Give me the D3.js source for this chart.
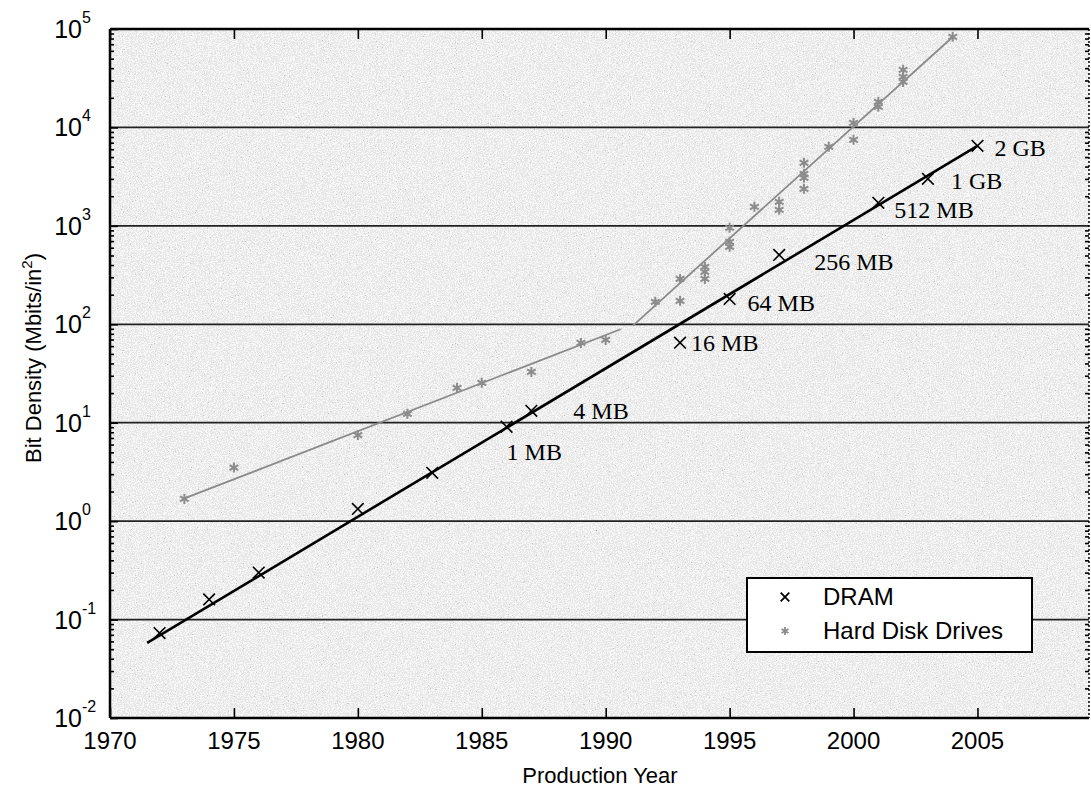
<!DOCTYPE html>
<html>
<head>
<meta charset="utf-8">
<script src="https://cdn.jsdelivr.net/npm/d3@7"></script>
<style>
  body { margin: 0; background: #fff; }
  svg { display: block; }
  .sans { font-family: "Liberation Sans", Arial, sans-serif; }
  .serif { font-family: "Liberation Serif", "Times New Roman", serif; }
</style>
</head>
<body>
<svg id="chart" width="1091" height="787"></svg>
<script>
// DRAM: year, Mbits/in^2
var dramYears = [1972, 1974, 1976, 1980, 1983, 1986, 1987, 1993, 1995, 1997, 2001, 2003, 2005];
var dramValues = [0.073, 0.16, 0.30, 1.33, 3.1, 9.1, 13.2, 65, 181, 507, 1714, 3006, 6500];
// chip capacity labels, attached to the DRAM point of the same year
var capLabels = ["1 MB", "4 MB", "16 MB", "64 MB", "256 MB", "512 MB", "1 GB", "2 GB"];
var capYears = [1986, 1987, 1993, 1995, 1997, 2001, 2003, 2005];
// DRAM trend line end points
var dramFitYears = [1971.5, 2005];
var dramFitValues = [0.058, 6500];

// hard disk drives
var hddYears = [1973, 1975, 1980, 1982, 1984, 1985, 1987, 1989, 1990, 1992, 1993, 1993,
  1994, 1994, 1994, 1995, 1995, 1995, 1996, 1997, 1997, 1998, 1998, 1998, 1998,
  1999, 2000, 2000, 2001, 2001, 2002, 2002, 2002, 2004];
var hddValues = [1.68, 3.5, 7.5, 12.3, 22.6, 25.4, 32.8, 64.7, 69.4, 169, 173, 289,
  383, 341, 289, 955, 688, 612, 1560, 1754, 1455, 4370, 3377, 3076, 2377,
  6350, 11100, 7480, 18200, 16200, 38500, 32700, 29000, 83300];
// HDD trend: two pieces
var hddFit1Years = [1973, 1990.6], hddFit1Values = [1.7, 89];
var hddFit2Years = [1991.1, 2004], hddFit2Values = [97, 83000];

var xTicks = [1970, 1975, 1980, 1985, 1990, 1995, 2000, 2005];
var yExps = [-2, -1, 0, 1, 2, 3, 4, 5];
var seriesNames = ["DRAM", "Hard Disk Drives"];

var svg = d3.select("#chart");
var pl = 110, pr = 1089, pt = 29, pb = 718;

var x = d3.scaleLinear().domain([1970, 2009.5]).range([pl, pr]);
var y = d3.scaleLog().domain([1e-2, 1e5]).range([pb, pt]);

// grainy gray background like the scanned figure
var defs = svg.append("defs");
var f = defs.append("filter").attr("id", "grain")
  .attr("filterUnits", "userSpaceOnUse")
  .attr("x", pl).attr("y", pt).attr("width", pr - pl).attr("height", pb - pt);
f.append("feTurbulence").attr("type", "fractalNoise").attr("baseFrequency", 0.85)
  .attr("numOctaves", 2).attr("seed", 7).attr("result", "n");
f.append("feColorMatrix").attr("type", "matrix")
  .attr("values", "0.33 0.33 0.33 0 0  0.33 0.33 0.33 0 0  0.33 0.33 0.33 0 0  0 0 0 0 1");
var ct = f.append("feComponentTransfer");
["feFuncR", "feFuncG", "feFuncB"].forEach(function (c) {
  ct.append(c).attr("type", "discrete").attr("tableValues", "0.35 0.6 0.8 0.92 1 1");
});

svg.append("rect").attr("x", pl).attr("y", pt)
  .attr("width", pr - pl).attr("height", pb - pt)
  .attr("fill", "#ddd").attr("filter", "url(#grain)");

// horizontal grid at decades
svg.append("g").selectAll("line")
  .data(yExps.slice(1, -1))
  .join("line")
  .attr("x1", pl).attr("x2", pr)
  .attr("y1", function (d) { return y(Math.pow(10, d)); })
  .attr("y2", function (d) { return y(Math.pow(10, d)); })
  .attr("stroke", "#222").attr("stroke-width", 1.7);

// minor log ticks left/right
var minor = [];
for (var e = -2; e < 5; e++) for (var m = 2; m <= 9; m++) minor.push(m * Math.pow(10, e));

svg.append("g").attr("transform", "translate(" + pl + ",0)")
  .call(d3.axisLeft(y).tickValues(minor).tickSize(-4).tickFormat(""))
  .call(function (g) { g.select(".domain").remove(); });
svg.append("g").attr("transform", "translate(" + pl + ",0)")
  .call(d3.axisLeft(y).tickValues(yExps.map(function (d) { return Math.pow(10, d); })).tickSize(-8).tickFormat(""))
  .call(function (g) { g.select(".domain").remove(); });
svg.append("g").attr("transform", "translate(" + pr + ",0)")
  .call(d3.axisRight(y).tickValues(minor).tickSize(-4).tickFormat(""))
  .call(function (g) { g.select(".domain").remove(); });

// x ticks bottom (inward) and top
svg.append("g").attr("transform", "translate(0," + pb + ")")
  .call(d3.axisBottom(x).tickValues(xTicks).tickSize(-10).tickFormat(""))
  .call(function (g) { g.select(".domain").remove(); });
svg.append("g").attr("transform", "translate(0," + pt + ")")
  .call(d3.axisTop(x).tickValues(xTicks).tickSize(-10).tickFormat(""))
  .call(function (g) { g.select(".domain").remove(); });
svg.selectAll(".tick line").attr("stroke", "#000").attr("stroke-width", 1.6);

// frame
svg.append("line").attr("x1", pl).attr("x2", pr).attr("y1", pt).attr("y2", pt)
  .attr("stroke", "#000").attr("stroke-width", 2.5);
svg.append("line").attr("x1", pl).attr("x2", pr).attr("y1", pb).attr("y2", pb)
  .attr("stroke", "#000").attr("stroke-width", 2.5);
svg.append("line").attr("x1", pl).attr("x2", pl).attr("y1", pt).attr("y2", pb)
  .attr("stroke", "#000").attr("stroke-width", 2.5);
svg.append("line").attr("x1", pr).attr("x2", pr).attr("y1", pt).attr("y2", pb)
  .attr("stroke", "#000").attr("stroke-width", 1.5).attr("stroke-dasharray", "2,2");

// tick labels
svg.append("g").attr("class", "sans").selectAll("text")
  .data(xTicks).join("text")
  .attr("x", function (d) { return x(d); }).attr("y", 749)
  .attr("text-anchor", "middle").attr("font-size", 24)
  .text(function (d) { return d; });

var yl = svg.append("g").attr("class", "sans").selectAll("g")
  .data(yExps).join("g")
  .attr("transform", function (d) { return "translate(0," + y(Math.pow(10, d)) + ")"; });
yl.append("text").attr("x", 82).attr("y", 9).attr("text-anchor", "end")
  .attr("font-size", 25).text("10");
yl.append("text").attr("x", 82).attr("y", -6).attr("font-size", 16)
  .text(function (d) { return d; });

// axis titles
svg.append("text").attr("class", "sans").attr("x", 600).attr("y", 783)
  .attr("text-anchor", "middle").attr("font-size", 22).text("Production Year");
var yt = svg.append("text").attr("class", "sans")
  .attr("transform", "translate(41,358) rotate(-90)")
  .attr("text-anchor", "middle").attr("font-size", 22);
yt.append("tspan").text("Bit Density (Mbits/in");
yt.append("tspan").attr("font-size", 15).attr("dy", -9).text("2");
yt.append("tspan").attr("dy", 9).text(")");

var line = d3.line()
  .x(function (d) { return x(d[0]); })
  .y(function (d) { return y(d[1]); });

// HDD trend and points
svg.append("path").datum(d3.zip(hddFit1Years, hddFit1Values)).attr("d", line)
  .attr("fill", "none").attr("stroke", "#8a8a8a").attr("stroke-width", 1.8);
svg.append("path").datum(d3.zip(hddFit2Years, hddFit2Values)).attr("d", line)
  .attr("fill", "none").attr("stroke", "#8a8a8a").attr("stroke-width", 1.8);

var star = d3.symbol().type(d3.symbolAsterisk).size(70);
svg.append("g").selectAll("path")
  .data(d3.zip(hddYears, hddValues)).join("path")
  .attr("transform", function (d) { return "translate(" + x(d[0]) + "," + y(d[1]) + ")"; })
  .attr("d", star).attr("fill", "none").attr("stroke", "#8c8c8c").attr("stroke-width", 2);

// DRAM trend and points
svg.append("path").datum(d3.zip(dramFitYears, dramFitValues)).attr("d", line)
  .attr("fill", "none").attr("stroke", "#000").attr("stroke-width", 2.6);

var cross = d3.symbol().type(d3.symbolX).size(90);
svg.append("g").selectAll("path")
  .data(d3.zip(dramYears, dramValues)).join("path")
  .attr("transform", function (d) { return "translate(" + x(d[0]) + "," + y(d[1]) + ")"; })
  .attr("d", cross).attr("fill", "none").attr("stroke", "#000").attr("stroke-width", 1.6);

// capacity labels (offsets from their point, in px)
var labelOffsets = [[0, 25], [42, 0], [11, 0], [18, 4], [35, 7], [16, 7], [23, 2], [17, 2]];
svg.append("g").attr("class", "serif").selectAll("text")
  .data(capLabels).join("text")
  .attr("x", function (d, i) { return x(capYears[i]) + labelOffsets[i][0]; })
  .attr("y", function (d, i) {
    var v = dramValues[dramYears.indexOf(capYears[i])];
    return y(v) + labelOffsets[i][1] + 8;
  })
  .attr("font-size", 24).attr("fill", "#000")
  .text(function (d) { return d; });

// legend
var lg = svg.append("g").attr("class", "sans");
lg.append("rect").attr("x", 747).attr("y", 578).attr("width", 285).attr("height", 74)
  .attr("fill", "#fff").attr("stroke", "#000").attr("stroke-width", 2);
lg.append("path").attr("transform", "translate(785,597)")
  .attr("d", d3.symbol().type(d3.symbolX).size(50)).attr("stroke", "#000").attr("stroke-width", 1.8);
lg.append("path").attr("transform", "translate(785,631)")
  .attr("d", d3.symbol().type(d3.symbolAsterisk).size(45)).attr("stroke", "#8c8c8c").attr("stroke-width", 1.8);
lg.selectAll("text").data(seriesNames).join("text")
  .attr("x", 823).attr("y", function (d, i) { return 605 + i * 34; })
  .attr("font-size", 24).text(function (d) { return d; });
</script>
</body>
</html>
